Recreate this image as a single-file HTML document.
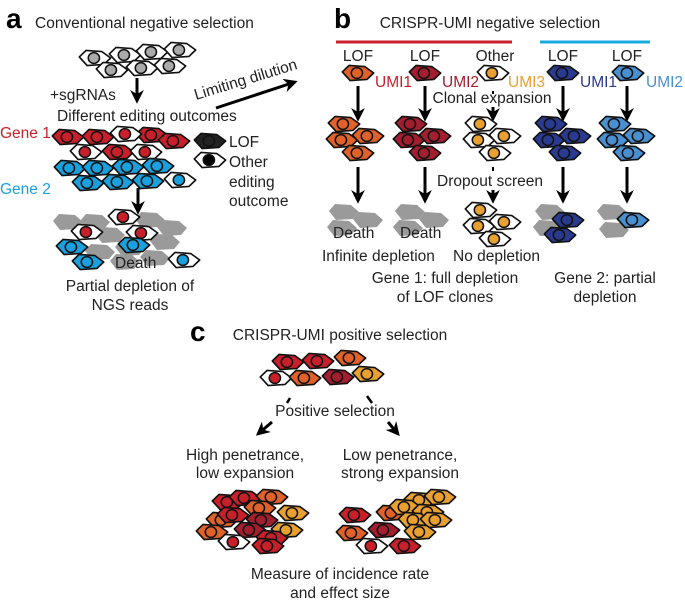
<!DOCTYPE html>
<html><head><meta charset="utf-8"><style>
html,body{margin:0;padding:0;background:#fff;}
svg{display:block;font-family:"Liberation Sans",Arial,sans-serif;}
</style></head><body>
<svg width="685" height="602" viewBox="0 0 685 602" xmlns="http://www.w3.org/2000/svg">
<defs>
<g id="c"><g transform="scale(1.12,1.08)"><path d="M-14,-1 L-8,-7 L6,-6 L14,0 L8,6 L-7,7 Z" stroke="#111" stroke-width="1.5" stroke-linejoin="round"/><circle cx="-1" cy="0" r="5" fill="currentColor" stroke="#111" stroke-width="1.4"/></g></g>
<path id="d" d="M-15,-1 L-9,-8 L7,-7 L15,0 L9,7 L-8,8 Z" fill="#9a9a9a"/>
<marker id="ah" viewBox="0 0 10 10" refX="8" refY="5" markerWidth="4.6" markerHeight="4.6" orient="auto"><path d="M0,0 L10,5 L0,10 L3,5 Z" fill="#000"/></marker>
<g id="cl"><use href="#c" x="-14" y="0"/><use href="#c" x="-16" y="16"/><use href="#c" x="10" y="12"/><use href="#c" x="0" y="29"/></g>
</defs>
<g font-size="15.5" fill="#222">
<!-- panel a -->
<text x="6" y="28" font-size="28" font-weight="bold" fill="#000">a</text>
<text x="35" y="28">Conventional negative selection</text>
<g fill="#fff" color="#aaa">
<use href="#c" x="95" y="58"/><use href="#c" x="125" y="55"/><use href="#c" x="152" y="52"/><use href="#c" x="180" y="50"/>
<use href="#c" x="112" y="70"/><use href="#c" x="142" y="68"/><use href="#c" x="170" y="66"/>
</g>
<line x1="137" y1="78" x2="137" y2="101" stroke="#000" stroke-width="3" marker-end="url(#ah)"/>
<text x="50" y="100">+sgRNAs</text>
<text x="57" y="121">Different editing outcomes</text>
<text x="0" y="138" fill="#c8202a">Gene 1</text>
<text x="0" y="194" fill="#1aa0dc">Gene 2</text>
<g fill="#c8202a" color="#c8202a"><use href="#c" x="68" y="137"/><use href="#c" x="98" y="137"/><use href="#c" x="152" y="135"/><use href="#c" x="118" y="152"/><use href="#c" x="174" y="141"/></g>
<g fill="#fff" color="#c8202a"><use href="#c" x="126" y="134"/><use href="#c" x="86" y="152"/><use href="#c" x="146" y="152"/></g>
<g fill="#1aa0dc" color="#1aa0dc"><use href="#c" x="70" y="168"/><use href="#c" x="98" y="168"/><use href="#c" x="128" y="167"/><use href="#c" x="158" y="166"/><use href="#c" x="88" y="183"/><use href="#c" x="118" y="182"/><use href="#c" x="148" y="181"/></g>
<g fill="#fff" color="#1aa0dc"><use href="#c" x="180" y="180"/></g>
<use href="#c" x="210" y="141" fill="#222" color="#222"/>
<use href="#c" x="210" y="160" fill="#fff" color="#000"/>
<text x="229" y="147">LOF</text>
<text x="229" y="167">Other</text><text x="229" y="187">editing</text><text x="229" y="206">outcome</text>
<line x1="138" y1="188" x2="138" y2="212" stroke="#000" stroke-width="3" marker-end="url(#ah)"/>
<g><use href="#d" x="68" y="222"/><use href="#d" x="95" y="222"/><use href="#d" x="150" y="220"/><use href="#d" x="172" y="228"/><use href="#d" x="110" y="235"/><use href="#d" x="165" y="242"/><use href="#d" x="100" y="252"/><use href="#d" x="130" y="248"/><use href="#d" x="155" y="258"/><use href="#d" x="125" y="262"/></g>
<g fill="#fff" color="#c8202a"><use href="#c" x="124" y="217"/><use href="#c" x="87" y="232"/><use href="#c" x="142" y="233"/></g>
<g fill="#1aa0dc" color="#1aa0dc"><use href="#c" x="72" y="247"/><use href="#c" x="134" y="245"/><use href="#c" x="88" y="262"/></g>
<use href="#c" x="184" y="260" fill="#fff" color="#1aa0dc"/>
<text x="115" y="268">Death</text>
<text x="130" y="291" text-anchor="middle">Partial depletion of</text>
<text x="130" y="310" text-anchor="middle">NGS reads</text>
<line x1="216" y1="108" x2="295" y2="82" stroke="#000" stroke-width="3" marker-end="url(#ah)"/>
<text x="0" y="0" transform="translate(196,100) rotate(-17)">Limiting dilution</text>

<!-- panel b -->
<text x="334" y="28" font-size="28" font-weight="bold" fill="#000">b</text>
<text x="490" y="28" text-anchor="middle">CRISPR-UMI negative selection</text>
<line x1="336" y1="42" x2="512" y2="42" stroke="#c8202a" stroke-width="3"/>
<line x1="540" y1="42" x2="650" y2="42" stroke="#1aa8e0" stroke-width="3"/>
<g text-anchor="middle"><text x="358" y="61">LOF</text><text x="425" y="61">LOF</text><text x="495" y="61">Other</text><text x="563" y="61">LOF</text><text x="627" y="61">LOF</text></g>
<use href="#c" x="358" y="73" fill="#e0622a" color="#e0622a"/>
<use href="#c" x="425" y="73" fill="#a31e2e" color="#a31e2e"/>
<use href="#c" x="493" y="73" fill="#fff" color="#e8a030"/>
<use href="#c" x="563" y="73" fill="#2a3a90" color="#2a3a90"/>
<use href="#c" x="628" y="73" fill="#4a8fd0" color="#4a8fd0"/>
<text x="375" y="87" fill="#c8202a">UMI1</text>
<text x="442" y="87" fill="#a31e2e">UMI2</text>
<text x="508" y="87" fill="#e8a030">UMI3</text>
<text x="580" y="87" fill="#2a3a90">UMI1</text>
<text x="646" y="87" fill="#4a8fd0">UMI2</text>
<text x="492" y="103" text-anchor="middle">Clonal expansion</text>
<g stroke="#000" stroke-width="3" marker-end="url(#ah)">
<line x1="358" y1="86" x2="358" y2="119"/><line x1="425" y1="86" x2="425" y2="119"/><line x1="493" y1="107" x2="493" y2="119"/><line x1="563" y1="86" x2="563" y2="119"/><line x1="627" y1="86" x2="627" y2="119"/>
<line x1="358" y1="167" x2="358" y2="201"/><line x1="425" y1="167" x2="425" y2="201"/><line x1="493" y1="190" x2="493" y2="201"/><line x1="563" y1="167" x2="563" y2="201"/><line x1="627" y1="167" x2="627" y2="201"/>
</g>
<line x1="493" y1="91" x2="493" y2="94" stroke="#000" stroke-width="2"/>
<line x1="493" y1="167" x2="493" y2="171" stroke="#000" stroke-width="2"/>
<use href="#cl" x="358" y="124" fill="#e0622a" color="#e0622a"/>
<use href="#cl" x="425" y="124" fill="#a31e2e" color="#a31e2e"/>
<use href="#cl" x="495" y="124" fill="#fff" color="#e8a030"/>
<use href="#cl" x="565" y="124" fill="#2a3a90" color="#2a3a90"/>
<use href="#cl" x="629" y="124" fill="#4a8fd0" color="#4a8fd0"/>
<text x="490" y="186" text-anchor="middle">Dropout screen</text>
<g><use href="#d" x="344" y="212"/><use href="#d" x="368" y="220"/><use href="#d" x="342" y="228"/><use href="#d" x="410" y="212"/><use href="#d" x="434" y="220"/><use href="#d" x="408" y="228"/>
<use href="#d" x="550" y="212"/><use href="#d" x="548" y="228"/><use href="#d" x="612" y="212"/><use href="#d" x="614" y="230"/></g>
<use href="#cl" x="495" y="210" fill="#fff" color="#e8a030"/>
<use href="#c" x="568" y="220" fill="#2a3a90" color="#2a3a90"/><use href="#c" x="560" y="235" fill="#2a3a90" color="#2a3a90"/>
<use href="#c" x="633" y="220" fill="#4a8fd0" color="#4a8fd0"/>
<text x="333" y="238">Death</text><text x="400" y="238">Death</text>
<text x="322" y="261">Infinite depletion</text>
<text x="453" y="261">No depletion</text>
<text x="445" y="283" text-anchor="middle">Gene 1: full depletion</text>
<text x="445" y="302" text-anchor="middle">of LOF clones</text>
<text x="605" y="283" text-anchor="middle">Gene 2: partial</text>
<text x="605" y="302" text-anchor="middle">depletion</text>

<!-- panel c -->
<text x="190" y="341" font-size="28" font-weight="bold" fill="#000">c</text>
<text x="340" y="340" text-anchor="middle">CRISPR-UMI positive selection</text>
<use href="#c" x="288" y="362" fill="#c8202a" color="#c8202a"/>
<use href="#c" x="318" y="361" fill="#c8202a" color="#c8202a"/>
<use href="#c" x="350" y="358" fill="#e0622a" color="#e0622a"/>
<use href="#c" x="276" y="378" fill="#fff" color="#c8202a"/>
<use href="#c" x="305" y="378" fill="#e0622a" color="#e0622a"/>
<use href="#c" x="338" y="377" fill="#a31e2e" color="#a31e2e"/>
<use href="#c" x="368" y="374" fill="#e8a030" color="#e8a030"/>
<line x1="290" y1="398" x2="287" y2="403" stroke="#000" stroke-width="2.5"/>
<line x1="367" y1="396" x2="372" y2="403" stroke="#000" stroke-width="2.5"/>
<text x="335" y="416" text-anchor="middle">Positive selection</text>
<line x1="272" y1="422" x2="258" y2="434" stroke="#000" stroke-width="3" marker-end="url(#ah)"/>
<line x1="388" y1="422" x2="398" y2="434" stroke="#000" stroke-width="3" marker-end="url(#ah)"/>
<text x="245" y="460" text-anchor="middle">High penetrance,</text>
<text x="245" y="478" text-anchor="middle">low expansion</text>
<text x="400" y="460" text-anchor="middle">Low penetrance,</text>
<text x="400" y="478" text-anchor="middle">strong expansion</text>
<g>
<use href="#c" x="228" y="502" fill="#c8202a" color="#c8202a"/>
<use href="#c" x="245" y="498" fill="#c8202a" color="#c8202a"/>
<use href="#c" x="272" y="497" fill="#e0622a" color="#e0622a"/>
<use href="#c" x="260" y="508" fill="#e0622a" color="#e0622a"/>
<use href="#c" x="222" y="520" fill="#e0622a" color="#e0622a"/>
<use href="#c" x="233" y="515" fill="#c8202a" color="#c8202a"/>
<use href="#c" x="293" y="513" fill="#e8a030" color="#e8a030"/>
<use href="#c" x="262" y="520" fill="#a31e2e" color="#a31e2e"/>
<use href="#c" x="250" y="530" fill="#a31e2e" color="#a31e2e"/>
<use href="#c" x="212" y="532" fill="#e0622a" color="#e0622a"/>
<use href="#c" x="287" y="530" fill="#e8a030" color="#e8a030"/>
<use href="#c" x="272" y="538" fill="#c8202a" color="#c8202a"/>
<use href="#c" x="234" y="542" fill="#fff" color="#c8202a"/>
<use href="#c" x="268" y="546" fill="#c8202a" color="#c8202a"/>
</g>
<g>
<use href="#c" x="355" y="515" fill="#c8202a" color="#c8202a"/>
<use href="#c" x="392" y="513" fill="#e0622a" color="#e0622a"/>
<use href="#c" x="420" y="500" fill="#e8a030" color="#e8a030"/>
<use href="#c" x="440" y="497" fill="#e8a030" color="#e8a030"/>
<use href="#c" x="405" y="507" fill="#e8a030" color="#e8a030"/>
<use href="#c" x="428" y="512" fill="#e8a030" color="#e8a030"/>
<use href="#c" x="414" y="520" fill="#e8a030" color="#e8a030"/>
<use href="#c" x="436" y="520" fill="#e8a030" color="#e8a030"/>
<use href="#c" x="420" y="532" fill="#e8a030" color="#e8a030"/>
<use href="#c" x="352" y="533" fill="#e0622a" color="#e0622a"/>
<use href="#c" x="384" y="530" fill="#a31e2e" color="#a31e2e"/>
<use href="#c" x="372" y="546" fill="#fff" color="#c8202a"/>
<use href="#c" x="405" y="546" fill="#c8202a" color="#c8202a"/>
</g>
<text x="340" y="579" text-anchor="middle">Measure of incidence rate</text>
<text x="340" y="598" text-anchor="middle">and effect size</text>
</g>
</svg>
</body></html>
